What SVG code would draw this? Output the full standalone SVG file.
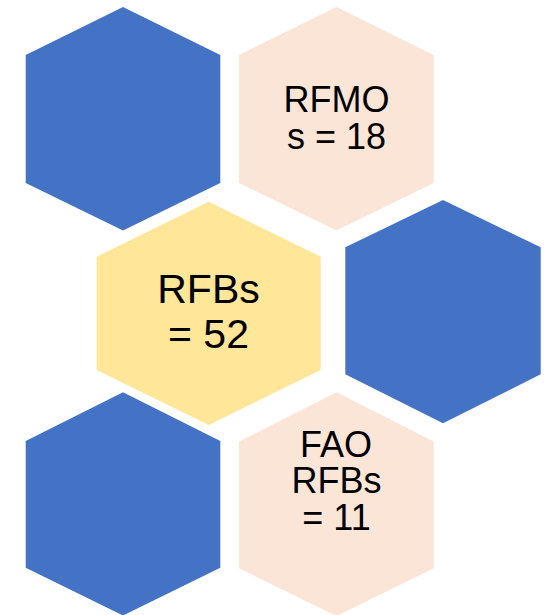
<svg xmlns="http://www.w3.org/2000/svg" width="551" height="615" viewBox="0 0 551 615">
  <style>
    .blue { fill: #4472C4; }
    .peach { fill: #FBE5D6; }
    .gold { fill: #FFE699; }
    .label { font-family: "Liberation Sans", Arial, sans-serif; fill: #000000; text-anchor: middle; }
    .small { font-size: 36px; }
    .big { font-size: 41px; }
  </style>
  <rect width="551" height="615" fill="#FFFFFF"/>

  <g id="hex-top-left">
    <polygon class="blue" points="123,7 220.3,55 220.3,183 123,230.5 25.7,183 25.7,55"/>
  </g>

  <g id="hex-rfmos">
    <polygon class="peach" points="336.5,7 433.7,55 433.7,183 336.5,230.5 239,183 239,55"/>
    <text class="label small" x="336.5" y="111.5">RFMO</text>
    <text class="label small" x="336.5" y="149">s = 18</text>
  </g>

  <g id="hex-rfbs">
    <polygon class="gold" points="208.7,201.7 320.7,256.7 320.7,370 208.7,425 96.7,370 96.7,256.7"/>
    <text class="label big" x="208.5" y="303.3">RFBs</text>
    <text class="label big" x="208.5" y="348.3">= 52</text>
  </g>

  <g id="hex-right">
    <polygon class="blue" points="443,200 540.7,247.3 540.7,374.3 443,423.3 345.3,374.3 345.3,247.3"/>
  </g>

  <g id="hex-bottom-left">
    <polygon class="blue" points="123,392.3 220.3,441 220.3,567.7 123,615.5 25.7,567.7 25.7,441"/>
  </g>

  <g id="hex-fao-rfbs">
    <polygon class="peach" points="336.5,392.3 433.7,441.5 433.7,568.3 336.5,616 239,568.3 239,441.5"/>
    <text class="label small" x="336" y="456.7">FAO</text>
    <text class="label small" x="336.5" y="493.3">RFBs</text>
    <text class="label small" x="336.5" y="530">= 11</text>
  </g>

  <g id="connectors"/>
</svg>
